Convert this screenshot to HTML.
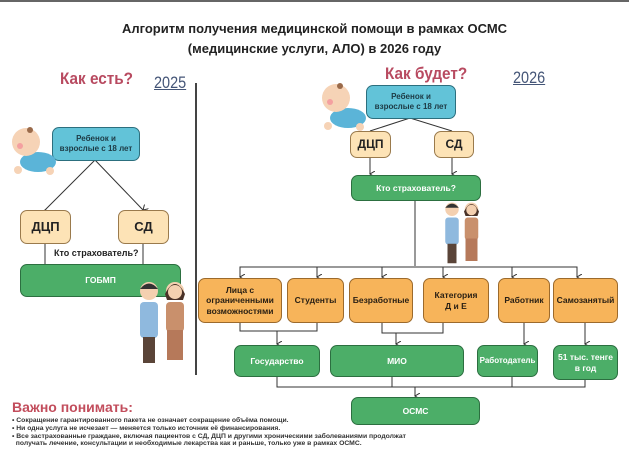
<!DOCTYPE html>
<html><head><meta charset="utf-8"><style>
body{margin:0;width:629px;height:463px;background:#fff;position:relative;overflow:hidden;font-family:"Liberation Sans",sans-serif}
.b{position:absolute;box-sizing:border-box;display:flex;align-items:center;justify-content:center;text-align:center;font-weight:bold;border-radius:7px;line-height:1.2}
.t{background:#62c3d8;border:1.5px solid #2c6f7e;color:#1d3a44;font-size:8px}
.o{background:#f7b45a;border:1.5px solid #9c6a2c;color:#2a2014;font-size:8.5px}
.y{background:#fde3b6;border:1.5px solid #9a7a4c;color:#222;font-size:13px;font-weight:bold}
.g{background:#4cae68;border:1.5px solid #2c6f40;color:#fff;font-size:8.5px}
.a{position:absolute;white-space:nowrap}
</style></head><body>
<div style="position:absolute;left:0;top:0;width:629px;height:2px;background:#666"></div>
<div class="a" style="left:0;width:629px;top:19px;text-align:center;font-size:13px;font-weight:bold;color:#222;line-height:20px">Алгоритм получения медицинской помощи в рамках ОСМС<br>(медицинские услуги, АЛО) в 2026 году</div>
<div class="a" style="left:60px;top:69px;font-size:17px;color:#b84a60;font-weight:bold;transform:scaleX(0.9);transform-origin:left">Как есть?</div>
<div class="a" style="left:154px;top:73px;font-size:17px;color:#445577;text-decoration:underline;transform:scaleX(0.85);transform-origin:left">2025</div>
<div class="a" style="left:385px;top:64px;font-size:17px;color:#b84a60;font-weight:bold;transform:scaleX(0.9);transform-origin:left">Как будет?</div>
<div class="a" style="left:513px;top:68px;font-size:17px;color:#445577;text-decoration:underline;transform:scaleX(0.85);transform-origin:left">2026</div>
<div style="position:absolute;left:195px;top:83px;width:1.5px;height:292px;background:#444"></div>

<svg width="629" height="463" style="position:absolute;left:0;top:0" fill="none" stroke="#333" stroke-width="1">
<defs><marker id="m" markerWidth="6" markerHeight="6" refX="3" refY="5" orient="auto"><path d="M0,0 L3,5 L6,0" fill="none" stroke="#333"/></marker></defs>
<line x1="95" y1="160" x2="45" y2="210" marker-end="url(#m)"/>
<line x1="95" y1="160" x2="143" y2="210" marker-end="url(#m)"/>
<path d="M45 243 V264 M143 243 V264"/>
<path d="M410 118 L370 131 M410 118 L452 131"/>
<line x1="370" y1="157" x2="370" y2="174" marker-end="url(#m)"/>
<line x1="452" y1="157" x2="452" y2="174" marker-end="url(#m)"/>
<path d="M415 200 V266 M240 276 V267 H577 V276"/>
<line x1="240" y1="267" x2="240" y2="277" marker-end="url(#m)"/>
<line x1="317" y1="267" x2="317" y2="277" marker-end="url(#m)"/>
<line x1="382" y1="267" x2="382" y2="277" marker-end="url(#m)"/>
<line x1="443" y1="267" x2="443" y2="277" marker-end="url(#m)"/>
<line x1="512" y1="267" x2="512" y2="277" marker-end="url(#m)"/>
<line x1="577" y1="267" x2="577" y2="277" marker-end="url(#m)"/>
<path d="M240 322 V331 H317 V322 M382 322 V333 H443 V322"/>
<line x1="277" y1="331" x2="277" y2="344" marker-end="url(#m)"/>
<line x1="396" y1="333" x2="396" y2="344" marker-end="url(#m)"/>
<line x1="524" y1="322" x2="524" y2="344" marker-end="url(#m)"/>
<line x1="585" y1="322" x2="585" y2="344" marker-end="url(#m)"/>
<path d="M277 377 V387 H585 V380 M392 377 V387 M512 377 V387"/>
<line x1="415" y1="387" x2="415" y2="396" marker-end="url(#m)"/>
</svg>

<div class="b t" style="left:52px;top:127px;width:88px;height:34px">Ребенок и<br>взрослые с 18 лет</div>
<div class="b y" style="left:20px;top:210px;width:51px;height:34px">ДЦП</div>
<div class="b y" style="left:118px;top:210px;width:51px;height:34px">СД</div>
<div class="a" style="left:54px;top:248px;font-size:9px;font-weight:bold;color:#222">Кто страхователь?</div>
<div class="b g" style="left:20px;top:264px;width:161px;height:33px">ГОБМП</div>

<div class="b t" style="left:366px;top:85px;width:90px;height:34px">Ребенок и<br>взрослые с 18 лет</div>
<div class="b y" style="left:350px;top:131px;width:41px;height:27px;font-size:12px">ДЦП</div>
<div class="b y" style="left:434px;top:131px;width:40px;height:27px;font-size:12px">СД</div>
<div class="b g" style="left:351px;top:175px;width:130px;height:26px">Кто страхователь?</div>

<div class="b o" style="left:198px;top:278px;width:84px;height:45px">Лица с<br>ограниченными<br>возможностями</div>
<div class="b o" style="left:287px;top:278px;width:57px;height:45px">Студенты</div>
<div class="b o" style="left:349px;top:278px;width:64px;height:45px">Безработные</div>
<div class="b o" style="left:423px;top:278px;width:66px;height:45px">Категория<br>Д и Е</div>
<div class="b o" style="left:498px;top:278px;width:52px;height:45px">Работник</div>
<div class="b o" style="left:553px;top:278px;width:65px;height:45px">Самозанятый</div>

<div class="b g" style="left:234px;top:345px;width:86px;height:32px">Государство</div>
<div class="b g" style="left:330px;top:345px;width:134px;height:32px">МИО</div>
<div class="b g" style="left:477px;top:345px;width:61px;height:32px;font-size:8px">Работодатель</div>
<div class="b g" style="left:553px;top:345px;width:65px;height:35px">51 тыс. тенге<br>в год</div>
<div class="b g" style="left:351px;top:397px;width:129px;height:28px">ОСМС</div>

<div class="a" style="left:12px;top:399px;font-size:14px;font-weight:bold;color:#c24d5c">Важно понимать:</div>
<div class="a" style="left:12px;top:417px;font-size:6.8px;font-weight:bold;color:#333;line-height:7.8px">• Сокращение гарантированного пакета не означает сокращение объёма помощи.<br>• Ни одна услуга не исчезает — меняется только источник её финансирования.<br>• Все застрахованные граждане, включая пациентов с СД, ДЦП и другими хроническими заболеваниями продолжат<br>&nbsp;&nbsp;получать лечение, консультации и необходимые лекарства как и раньше, только уже в рамках ОСМС.</div>

<svg width="629" height="463" style="position:absolute;left:0;top:0">
<g transform="translate(10,126)"><ellipse cx="28" cy="36" rx="18" ry="10" fill="#5bb4d8"/><circle cx="16" cy="16" r="14" fill="#f6d3b6"/><circle cx="10" cy="20" r="3" fill="#f4a0a0"/><circle cx="20" cy="4" r="3" fill="#9a6a4a"/><circle cx="8" cy="44" r="4" fill="#f6d3b6"/><circle cx="40" cy="45" r="4" fill="#f6d3b6"/></g>
<g transform="translate(320,82)"><ellipse cx="28" cy="36" rx="18" ry="10" fill="#5bb4d8"/><circle cx="16" cy="16" r="14" fill="#f6d3b6"/><circle cx="10" cy="20" r="3" fill="#f4a0a0"/><circle cx="20" cy="4" r="3" fill="#9a6a4a"/><circle cx="8" cy="44" r="4" fill="#f6d3b6"/><circle cx="40" cy="45" r="4" fill="#f6d3b6"/></g>
<g transform="translate(137,280)"><circle cx="12" cy="11" r="9" fill="#f4d0b0"/><path d="M3 9 Q12 -2 21 9 Z" fill="#333"/><rect x="3" y="22" width="18" height="36" rx="4" fill="#8fb9de"/><rect x="6" y="57" width="12" height="26" fill="#5a4438"/>
<circle cx="38" cy="11" r="9" fill="#f4d0b0"/><path d="M28 14 Q38 -6 48 14 L46 20 L30 20 Z" fill="#4a3228"/><circle cx="38" cy="12" r="7" fill="#f4d0b0"/><rect x="29" y="22" width="18" height="30" rx="4" fill="#c9906c"/><rect x="30" y="50" width="16" height="30" fill="#b6795a"/></g>
<g transform="translate(443,201) scale(0.75)"><circle cx="12" cy="11" r="9" fill="#f4d0b0"/><path d="M3 9 Q12 -2 21 9 Z" fill="#333"/><rect x="3" y="22" width="18" height="36" rx="4" fill="#8fb9de"/><rect x="6" y="57" width="12" height="26" fill="#5a4438"/>
<circle cx="38" cy="11" r="9" fill="#f4d0b0"/><path d="M28 14 Q38 -6 48 14 L46 20 L30 20 Z" fill="#4a3228"/><circle cx="38" cy="12" r="7" fill="#f4d0b0"/><rect x="29" y="22" width="18" height="30" rx="4" fill="#c9906c"/><rect x="30" y="50" width="16" height="30" fill="#b6795a"/></g>
</svg>
</body></html>
